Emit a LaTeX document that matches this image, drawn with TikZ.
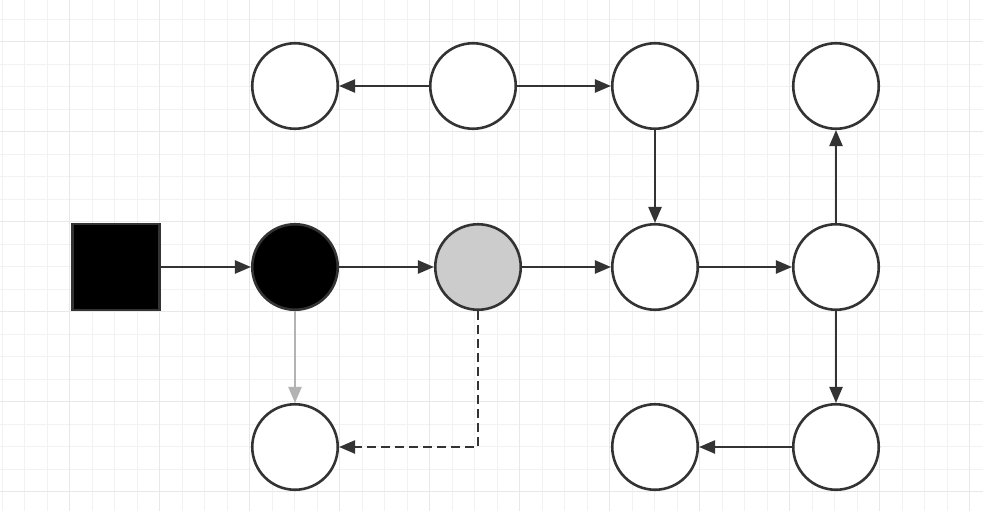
\documentclass[tikz,border=0pt]{standalone}
\usetikzlibrary{arrows.meta}
\definecolor{ink}{HTML}{333333}
\definecolor{gfill}{HTML}{CCCCCC}
\definecolor{garrow}{HTML}{B3B3B3}
\definecolor{gminor}{HTML}{F2F2F2}
\definecolor{gmajor}{HTML}{E8E8E8}
\begin{document}
\begin{tikzpicture}[x=1pt,y=-1pt,
  circ/.style={circle,draw=ink,line width=2.6pt,fill=white,minimum size=85.5pt,inner sep=0pt},
  sqbox/.style={rectangle,draw=ink,line width=2.6pt,fill=black,minimum width=87pt,minimum height=86pt,inner sep=0pt},
  conn/.style={draw=ink,line width=2.4pt,-{Triangle[length=16pt,width=13pt]}},
  gconn/.style={draw=garrow,line width=2.4pt,-{Triangle[length=16pt,width=13pt]}},
  dconn/.style={conn,dash pattern=on 9pt off 5pt}
]
\useasboundingbox (0,0) rectangle (983,511);
\fill[white] (0,0) rectangle (983,511);
% grid
\foreach \k in {-3,...,40} {
  \pgfmathsetmacro{\xx}{69.7+22.5*\k}
  \draw[gminor,line width=1.3pt] (\xx,0) -- (\xx,511);
}
\foreach \k in {-1,...,21} {
  \pgfmathsetmacro{\yy}{41.7+22.5*\k}
  \draw[gminor,line width=1.3pt] (0,\yy) -- (983,\yy);
}
\foreach \k in {-1,...,10} {
  \pgfmathsetmacro{\xx}{69.7+90*\k}
  \draw[gmajor,line width=1.3pt] (\xx,0) -- (\xx,511);
}
\foreach \k in {0,...,5} {
  \pgfmathsetmacro{\yy}{41.7+90*\k}
  \draw[gmajor,line width=1.3pt] (0,\yy) -- (983,\yy);
}
% nodes
\node[sqbox] (sq) at (116,267) {};
\node[circ,fill=black] (b) at (295,267) {};
\node[circ,fill=gfill] (g) at (478,267) {};
\node[circ] (m3) at (655,267) {};
\node[circ] (m4) at (836,267) {};
\node[circ] (t1) at (295,86) {};
\node[circ] (t2) at (473,86) {};
\node[circ] (t3) at (655,86) {};
\node[circ] (t4) at (836,86) {};
\node[circ] (b1) at (295,447) {};
\node[circ] (b3) at (655,447) {};
\node[circ] (b4) at (836,447) {};
% connectors
\draw[conn] (sq) -- (b);
\draw[conn] (b) -- (g);
\draw[conn] (g) -- (m3);
\draw[conn] (m3) -- (m4);
\draw[conn] (t2) -- (t1);
\draw[conn] (t2) -- (t3);
\draw[conn] (t3) -- (m3);
\draw[conn] (m4) -- (t4);
\draw[conn] (m4) -- (b4);
\draw[conn] (b4) -- (b3);
\draw[gconn] (b) -- (b1);
\draw[dconn] (g.south) |- (b1.east);
\end{tikzpicture}
\end{document}
